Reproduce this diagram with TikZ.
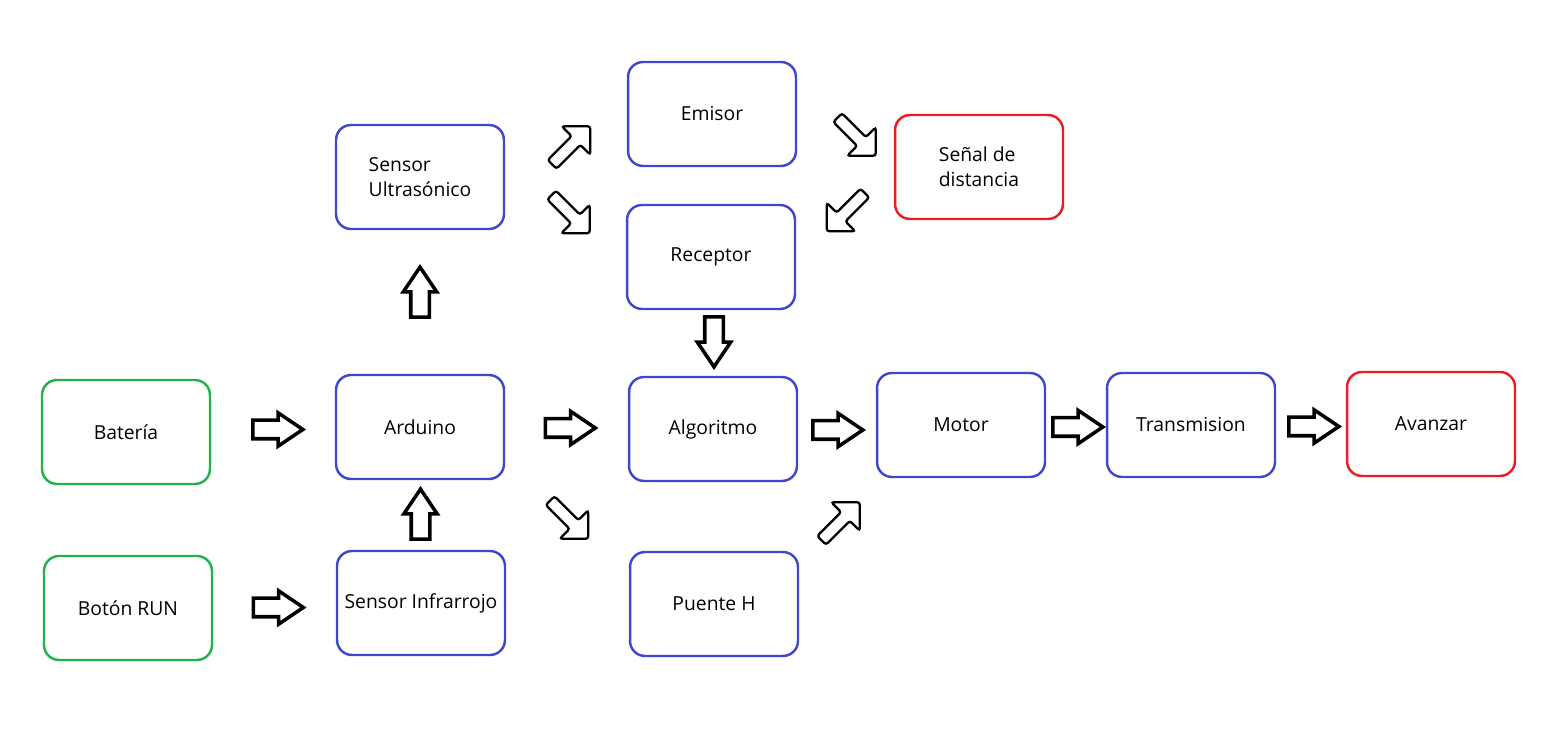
\documentclass[tikz,border=0pt]{standalone}
\usepackage{fontspec}
\setmainfont{Open Sans}
\usepackage{xcolor}
\usetikzlibrary{shapes,arrows,calc}
\definecolor{paintblue}{RGB}{63,72,204}
\definecolor{paintgreen}{RGB}{34,177,76}
\definecolor{paintred}{RGB}{237,28,36}

\begin{document}
\begin{tikzpicture}[x=0.02cm, y=0.02cm, font=\fontsize{11}{14}\selectfont]
    \tikzstyle{block} = [rectangle, draw, line width=1.4pt, minimum width=3.36cm, minimum height=2.08cm, rounded corners=0.3cm, align=left]
    \tikzstyle{bluebox} = [block, draw=paintblue]
    \tikzstyle{greenbox} = [block, draw=paintgreen]
    \tikzstyle{redbox} = [block, draw=paintred]
    \tikzstyle{bigarrow} = [single arrow, draw, line width=2pt, inner xsep=0pt, inner ysep=0.15cm, minimum height=1.0cm, single arrow head extend=0.15cm, single arrow tip angle=68]
    \tikzstyle{smallarrow} = [single arrow, draw, line width=1.3pt, rounded corners=1.5pt, inner xsep=0pt, inner ysep=0.1cm, minimum height=1.08cm, single arrow head extend=0.28cm, single arrow tip angle=90]

    \useasboundingbox (0,0) rectangle (1563,-739);

    % boxes
    \node [greenbox] (bateria) at (126,-432) {Batería};
    \node [greenbox] (boton) at (128,-608) {Botón RUN};
    \node [bluebox] (arduino) at (420,-427) {Arduino};
    \node [bluebox] (infrarrojo) at (421,-603) {Sensor Infrarrojo};
    \node [bluebox] (ultra) at (420,-177) {Sensor\\Ultrasónico};
    \node [bluebox] (emisor) at (712,-114) {Emisor};
    \node [bluebox] (receptor) at (711,-257) {Receptor};
    \node [redbox] (senal) at (979,-167) {Señal de\\distancia};
    \node [bluebox] (algoritmo) at (713,-429) {Algoritmo};
    \node [bluebox] (puente) at (714,-604) {Puente H};
    \node [bluebox] (motor) at (961,-425) {Motor};
    \node [bluebox] (transmision) at (1191,-425) {Transmision};
    \node [redbox] (avanzar) at (1431,-424) {Avanzar};

    % block arrows
    \node [bigarrow] (bat2ard) at ($(bateria.east)!0.5!(arduino.west)+(-2,0)$) {};
    \node [bigarrow] (bot2inf) at ($(boton.east)!0.5!(infrarrojo.west)+(-3,-2)$) {};
    \node [bigarrow, rotate=90] (inf2ard) at ($(infrarrojo.north)!0.5!(arduino.south)+(0,-6)$) {};
    \node [bigarrow, rotate=90] (ard2ult) at ($(arduino.north)!0.57!(ultra.south)+(0,-7)$) {};
    \node [bigarrow] (ard2alg) at ($(arduino.east)!0.5!(algoritmo.west)+(-3,0)$) {};
    \node [bigarrow, rotate=-90] (rec2alg) at ($(receptor.south)!0.5!(algoritmo.north)+(2,8)$) {};
    \node [bigarrow] (alg2mot) at ($(algoritmo.east)!0.5!(motor.west)+(-6,-3)$) {};
    \node [bigarrow] (mot2tra) at ($(motor.east)!0.5!(transmision.west)+(-5,-2)$) {};
    \node [bigarrow] (tra2ava) at ($(transmision.east)!0.5!(avanzar.west)+(-4,-2)$) {};

    % diagonal arrows
    \node [smallarrow, rotate=45] (ult2emi) at ($(ultra.east)!0.5!(emisor.west)+(3,-2)$) {};
    \node [smallarrow, rotate=-45] (ult2rec) at ($(ultra.east)!0.5!(receptor.west)+(3,5)$) {};
    \node [smallarrow, rotate=-45] (emi2sen) at ($(emisor.east)!0.5!(senal.west)+(9,6)$) {};
    \node [smallarrow, rotate=-135] (sen2rec) at ($(senal.west)!0.5!(receptor.east)+(3,2)$) {};
    \node [smallarrow, rotate=-45] (ard2pue) at ($(arduino.east)!0.5!(puente.west)+(0,-2)$) {};
    \node [smallarrow, rotate=45] (pue2mot) at ($(puente.east)!0.5!(motor.west)+(1,-9)$) {};
\end{tikzpicture}
\end{document}
